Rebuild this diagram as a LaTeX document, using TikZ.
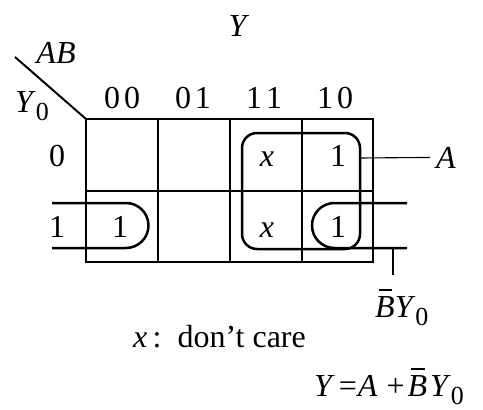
\documentclass[tikz,border=0pt]{standalone}
\usepackage{fontspec}
\setmainfont{Liberation Serif}
\newcommand\zsub{\raisebox{-0.25em}{\fontsize{26}{26}\selectfont 0}}
\newcommand\Bbar{\rlap{\hspace{0.12em}\rule[0.82em]{0.42em}{1.4pt}}\textit{B}}
\begin{document}
\begin{tikzpicture}[x=1pt,y=-1pt,
  font=\fontsize{32}{38}\selectfont,
  gridline/.style={line width=2.4pt},
  loopline/.style={line width=2.5pt},
  thinline/.style={line width=1.1pt},
  txt/.style={inner sep=0pt, anchor=base}]
\useasboundingbox (0,0) rectangle (483,410);
\fill[white] (0,0) rectangle (483,410);
% grid
\draw[gridline] (86,119) rectangle (373,262);
\draw[gridline] (86,191) -- (373,191);
\foreach \x in {158,230,302} \draw[gridline] (\x,119) -- (\x,262);
\draw[line width=2pt] (15,57) -- (86,119);
% headings
\node[txt] (Yt) at (239,36) {\textit{Y}};
\node[txt] (AB) at (56,63) {\textit{AB}};
\node[txt, anchor=base west] (Y0) at (15,112) {\textit{Y}\zsub};
\node[txt] (h1) at (122,108) {0\kern4pt0};
\node[txt] (h2) at (193,108) {0\kern4pt1};
\node[txt] (h3) at (264,108) {1\kern4pt1};
\node[txt] (h4) at (335,108) {1\kern4pt0};
\node[txt] (r0) at (57,166) {0};
\node[txt] (r1) at (57,237) {1};
% cells
\node[txt] (c10) at (120,237) {1};
\node[txt] (c03) at (267,166) {\textit{x}};
\node[txt] (c04) at (338,166) {1};
\node[txt] (c13) at (267,237) {\textit{x}};
\node[txt] (c14) at (338,237) {1};
% loop A
\draw[loopline, rounded corners=15pt] (242,133) rectangle (360,249);
% loops BbarY0
\draw[loopline] (52,203) -- (126,203) arc[start angle=-90, end angle=90, radius=22.5] -- (52,248);
\draw[loopline] (407,203) -- (334.5,203) arc[start angle=-90, end angle=-270, radius=22.5] -- (407,248);
% labels
\node[txt, anchor=base west] (A) at (436,168) {\textit{A}};
\coordinate (loopAE) at (360,158);
\draw[thinline] (loopAE) -- ([xshift=-6pt]A.west);
\node[txt, anchor=base west] (BY) at (375,317) {\Bbar\textit{Y}\zsub};
\coordinate (tickT) at (393,248);
\coordinate (tickB) at (393,275);
\draw[thinline] (tickT) -- (tickB);
\node[txt, anchor=base west] (dc) at (133,347) {\textit{x}\,:\enspace don’t care};
\node[txt, anchor=base west] (eq) at (314,396) {\textit{Y}\kern4pt=\kern1pt\textit{A}\kern9pt+\kern3pt\Bbar\kern3pt\textit{Y}\zsub};
\end{tikzpicture}
\end{document}
